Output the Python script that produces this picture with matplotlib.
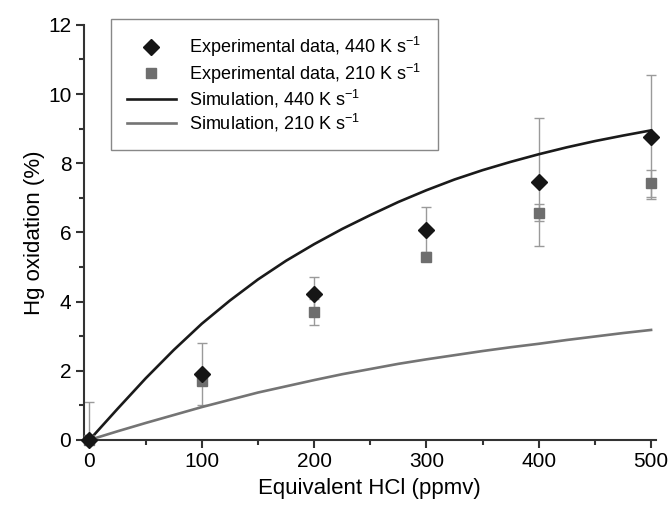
import matplotlib as mpl
import matplotlib.pyplot as plt
from matplotlib.ticker import MultipleLocator

mpl.rcParams['font.family'] = ['Liberation Sans', 'DejaVu Sans']
mpl.rcParams['mathtext.fontset'] = 'custom'
mpl.rcParams['mathtext.rm'] = 'Liberation Sans'
mpl.rcParams['mathtext.it'] = 'Liberation Sans'

# Measured points
hcl = [0, 100, 200, 300, 400, 500]
ox_440 = [0, 1.9, 4.22, 6.08, 7.45, 8.75]
err_440 = [1.1, 0.9, 0.48, 0.65, 1.85, 1.79]
ox_210 = [0, 1.7, 3.7, 5.3, 6.57, 7.42]
err_210 = [0, 0, 0.38, 0, 0.24, 0.39]

# Simulation curves
sim_x = [0, 25, 50, 75, 100, 125, 150, 175, 200, 225, 250,
         275, 300, 325, 350, 375, 400, 425, 450, 475, 500]
sim_440 = [0, 0.9, 1.78, 2.6, 3.36, 4.03, 4.64, 5.18, 5.66, 6.1, 6.5,
           6.88, 7.22, 7.53, 7.8, 8.04, 8.26, 8.46, 8.64, 8.8, 8.95]
sim_210 = [0, 0.25, 0.49, 0.72, 0.95, 1.16, 1.37, 1.55, 1.73, 1.9, 2.05,
           2.2, 2.33, 2.45, 2.57, 2.68, 2.78, 2.89, 2.99, 3.09, 3.18]

fig = plt.figure(figsize=(6.71, 5.08), dpi=100)
ax = fig.add_axes([0.125, 0.134, 0.852, 0.817])

# error bars (x=0 bar is one-sided upward)
lo_440 = [0] + err_440[1:]
ax.errorbar(hcl, ox_440, yerr=[lo_440, err_440], fmt='none', ecolor='#9a9a9a',
            elinewidth=1.0, capsize=3.8, capthick=1.0, clip_on=False, zorder=2)
ax.errorbar(hcl, ox_210, yerr=err_210, fmt='none', ecolor='#9a9a9a',
            elinewidth=1.0, capsize=3.8, capthick=1.0, clip_on=False, zorder=2)

l1, = ax.plot(sim_x, sim_440, color='#1a1a1a', lw=1.9, zorder=3)
l2, = ax.plot(sim_x, sim_210, color='#747474', lw=1.9, zorder=3)
s2, = ax.plot(hcl, ox_210, 's', color='#6e6e6e', ms=6.5, ls='none', clip_on=False, zorder=4)
s1, = ax.plot(hcl, ox_440, 'D', color='#161616', ms=8, ls='none', clip_on=False, zorder=5)

ax.set_xlim(-5, 504)
ax.set_ylim(0, 12)
ax.xaxis.set_major_locator(MultipleLocator(100))
ax.xaxis.set_minor_locator(MultipleLocator(50))
ax.yaxis.set_major_locator(MultipleLocator(2))
ax.yaxis.set_minor_locator(MultipleLocator(1))
for s in ['top', 'right']:
    ax.spines[s].set_visible(False)
for s in ['left', 'bottom']:
    ax.spines[s].set_linewidth(1.5)
    ax.spines[s].set_color('#333333')
ax.tick_params(which='major', direction='out', length=6, width=1.5, color='#333333',
               labelsize=15, pad=3)
ax.tick_params(which='minor', direction='out', length=3.5, width=1.5, color='#333333')

ax.set_xlabel('Equivalent HCl (ppmv)', fontsize=16, labelpad=5)
ax.set_ylabel('Hg oxidation (%)', fontsize=16, labelpad=2)

leg = ax.legend([s1, s2, l1, l2],
                [r'Experimental data, 440 K s$^{-1}$', r'Experimental data, 210 K s$^{-1}$',
                 r'Simulation, 440 K s$^{-1}$', r'Simulation, 210 K s$^{-1}$'],
                loc='upper left', bbox_to_anchor=(0.047, 1.014), fontsize=13,
                fancybox=False, framealpha=1, edgecolor='#888888',
                handlelength=2.7, labelspacing=0.12, borderpad=0.9,
                handletextpad=0.75, borderaxespad=0)
leg.get_frame().set_linewidth(1.0)

fig.savefig('out.png', dpi=100)
